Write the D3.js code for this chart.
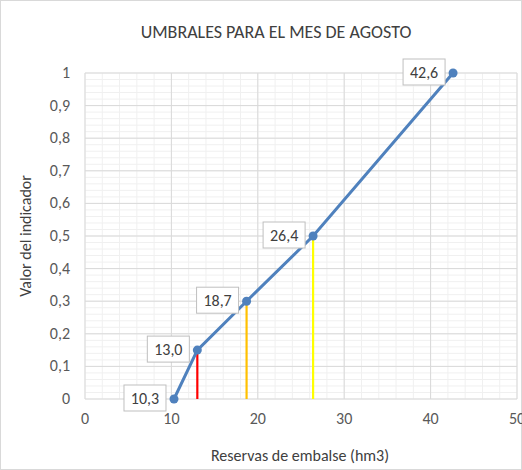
<!DOCTYPE html>
<html><head><meta charset="utf-8">
<script src="https://cdn.jsdelivr.net/npm/d3@7"></script>
<style>body{margin:0;background:#fff}text{font-family:Calibri,Carlito,"Open Sans",sans-serif}</style>
</head><body><svg id="c" width="522" height="470"></svg>
<script>
const reservas = [10.3, 13.0, 18.7, 26.4, 42.6];
const indicador = [0, 0.15, 0.3, 0.5, 1];
const etiquetas = ["10,3", "13,0", "18,7", "26,4", "42,6"];
const umbrales = [{x: 13.0, y: 0.15, c: "#ff0000"}, {x: 18.7, y: 0.3, c: "#ffc000"}, {x: 26.4, y: 0.5, c: "#ffff00"}];

const svg = d3.select("#c");
svg.append("rect").attr("x", 0.5).attr("y", 0.5).attr("width", 521).attr("height", 469).attr("fill", "#fff").attr("stroke", "#d9d9d9");
const x = d3.scaleLinear().domain([0, 50]).range([85, 517]);
const y = d3.scaleLinear().domain([0, 1]).range([399, 73]);
const fmt = d => d3.format(".1f")(d).replace(".", ",").replace(/,0$/, "");

const g = svg.append("g");
g.selectAll(".mx").data(d3.range(0, 51, 2)).join("line").attr("x1", x).attr("x2", x).attr("y1", y(0)).attr("y2", y(1)).attr("stroke", "#f0f0f0");
g.selectAll(".my").data(d3.range(0, 1.001, 0.02)).join("line").attr("y1", y).attr("y2", y).attr("x1", x(0)).attr("x2", x(50)).attr("stroke", "#f0f0f0");
g.selectAll(".Mx").data(d3.range(0, 51, 10)).join("line").attr("x1", x).attr("x2", x).attr("y1", y(0)).attr("y2", y(1)).attr("stroke", "#d9d9d9");
g.selectAll(".My").data(d3.range(0, 1.001, 0.1)).join("line").attr("y1", y).attr("y2", y).attr("x1", x(0)).attr("x2", x(50)).attr("stroke", "#d9d9d9");

svg.selectAll(".xt").data(d3.range(0, 51, 10)).join("text").attr("x", x).attr("y", y(0) + 25).attr("text-anchor", "middle").attr("font-size", 16).attr("fill", "#595959").text(d => d);
svg.selectAll(".yt").data(d3.range(0, 1.001, 0.1)).join("text").attr("x", 70).attr("y", d => y(d) + 5).attr("text-anchor", "end").attr("font-size", 16).attr("fill", "#595959").text(fmt);

svg.selectAll(".u").data(umbrales).join("line").attr("x1", d => x(d.x)).attr("x2", d => x(d.x)).attr("y1", y(0)).attr("y2", d => y(d.y)).attr("stroke", d => d.c).attr("stroke-width", 2.2);

const pts = reservas.map((r, i) => [r, indicador[i]]);
svg.append("path").attr("d", d3.line().x(d => x(d[0])).y(d => y(d[1]))(pts)).attr("fill", "none").attr("stroke", "#4f81bd").attr("stroke-width", 3);
svg.selectAll(".p").data(pts).join("circle").attr("cx", d => x(d[0])).attr("cy", d => y(d[1])).attr("r", 4.5).attr("fill", "#4f81bd");

const lab = svg.selectAll(".l").data(pts).join("g").attr("transform", d => `translate(${x(d[0]) - 29},${y(d[1]) - 1})`);
lab.append("rect").attr("x", -21).attr("y", -13).attr("width", 42).attr("height", 26).attr("fill", "#fff").attr("stroke", "#bfbfbf");
lab.append("text").attr("text-anchor", "middle").attr("y", 6).attr("font-size", 16).attr("fill", "#404040").text((d, i) => etiquetas[i]);

svg.append("text").attr("x", 276).attr("y", 38).attr("text-anchor", "middle").attr("font-size", 18).attr("fill", "#404040").text("UMBRALES PARA EL MES DE AGOSTO");
svg.append("text").attr("x", 300).attr("y", 461).attr("text-anchor", "middle").attr("font-size", 16).attr("fill", "#404040").text("Reservas de embalse (hm3)");
svg.append("text").attr("transform", "translate(31,236) rotate(-90)").attr("text-anchor", "middle").attr("font-size", 16).attr("fill", "#404040").text("Valor del indicador");
</script></body></html>
